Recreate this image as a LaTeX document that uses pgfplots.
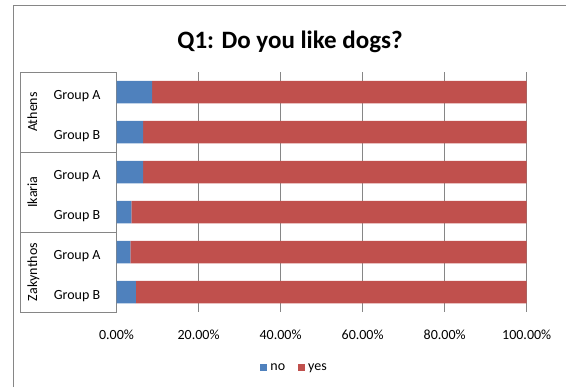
\documentclass[border=0pt]{standalone}
\usepackage{pgfplots}
\pgfplotsset{compat=1.18}
\usepackage{fontspec}
\setmainfont{Carlito}
\definecolor{xlblue}{HTML}{4F81BD}
\definecolor{xlred}{HTML}{C0504D}
\definecolor{xlgrid}{HTML}{868686}
\begin{document}
\begin{tikzpicture}[x=1bp,y=1bp]
\path[use as bounding box] (0,0) rectangle (566,387);
\draw[xlgrid, line width=0.8bp] (13,0) -- (13,382) -- (566,382);
\node[font=\fontsize{25bp}{30bp}\selectfont\bfseries, anchor=base, inner sep=0pt] at (290,338.7) {Q1: Do you like dogs?};
\begin{axis}[at={(116.5bp,75bp)}, anchor=south west, scale only axis,
  width=410.2bp, height=240bp,
  xbar stacked, bar width=22.5bp,
  xmin=0, xmax=100, ymin=-0.5, ymax=5.5, y dir=reverse,
  axis line style={draw=none},
  xmajorgrids, grid style={xlgrid, line width=0.8bp},
  xtick={0,20,40,60,80,100},
  xticklabels={0.00\%,20.00\%,40.00\%,60.00\%,80.00\%,100.00\%},
  ytick={0,1,2,3,4,5},
  yticklabels={Group A,Group B,Group A,Group B,Group A,Group B},
  tick style={draw=none},
  tick label style={font=\fontsize{14bp}{16bp}\selectfont},
  xticklabel style={anchor=base, yshift=-27.3bp, inner sep=0pt},
  yticklabel style={anchor=base, xshift=-39.5bp, yshift=-7.3bp, inner sep=0pt},
  legend columns=2,
  legend style={at={(0.4315,-0.233)}, anchor=center, draw=none, fill=none,
    font=\fontsize{14bp}{16bp}\selectfont, inner sep=0pt,
    nodes={inner sep=0pt},
    /tikz/every odd column/.append style={column sep=3bp},
    /tikz/every even column/.append style={column sep=12.7bp}},
  legend image code/.code={\fill[#1] (0bp,-3.5bp) rectangle (7.3bp,3.5bp);},
]
\addplot[fill=xlblue, draw=none] coordinates {(8.7,0) (6.5,1) (6.5,2) (3.6,3) (3.4,4) (4.7,5)};
\addplot[fill=xlred, draw=none] coordinates {(91.3,0) (93.5,1) (93.5,2) (96.4,3) (96.6,4) (95.3,5)};
\legend{no,yes}
\end{axis}
\begin{scope}[xlgrid, line width=0.8bp]
\draw (116.5,315) -- (20,315) -- (20,75) -- (116.5,75);
\draw (20,235) -- (116.5,235);
\draw (20,155) -- (116.5,155);
\end{scope}
\begin{scope}[font=\fontsize{14bp}{16bp}\selectfont]
\node[rotate=90, anchor=base, inner sep=0pt] at (37,275) {Athens};
\node[rotate=90, anchor=base, inner sep=0pt] at (37,195) {Ikaria};
\node[rotate=90, anchor=base, inner sep=0pt] at (37,115) {Zakynthos};
\end{scope}
\end{tikzpicture}
\end{document}
